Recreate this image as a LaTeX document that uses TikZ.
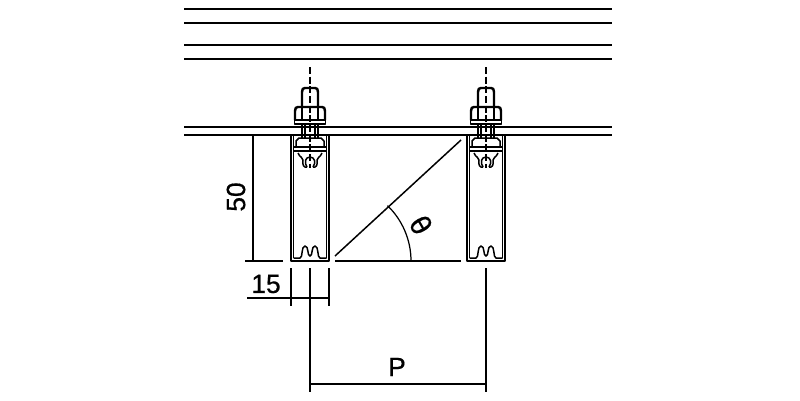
\documentclass[tikz,border=0pt]{standalone}
\usepackage{fontspec}
\setmainfont{Liberation Sans}
\newfontfamily\dimfont[FakeBold=0.6]{Liberation Sans}
\tikzset{
  part/.style={line width=0.85pt,line join=round},
  thick part/.style={line width=1.4pt,line join=round},
  dim/.style={line width=0.7pt},
  axis line/.style={line width=0.7pt,dash pattern=on 4pt off 1.5pt},
  dim text/.style={font=\dimfont\fontsize{15}{17}\selectfont,inner sep=0pt}
}
\begin{document}
\begin{tikzpicture}[x=0.02cm,y=-0.02cm]
    \useasboundingbox (0,0) rectangle (800,400);
    % deck boards
    \foreach \ly in {9,23,45,59,127,135}
      \draw[part] (184,\ly) -- (612,\ly);
    % channels and bolts
    \foreach \bx in {310,486} {
      \begin{scope}[shift={(\bx,0)}]
        \draw[axis line] (0,67) -- (0,168);
        % bolt and nut
        \draw[thick part] (-8,107) -- (-8,92) .. controls (-8,89) and (-7,88) .. (-5,88) -- (5,88) .. controls (7,88) and (8,89) .. (8,92) -- (8,107);
        \draw[thick part] (-15,120) -- (-15,111) .. controls (-15,108) and (-14,107) .. (-12,107) -- (12,107) .. controls (14,107) and (15,108) .. (15,111) -- (15,120);
        \draw[part] (-8,107) -- (-8,120) (8,107) -- (8,120);
        \draw[part] (-15.5,120) rectangle (15.5,124);
        \draw[thick part] (-8,124) -- (-8,139) (8,124) -- (8,139) (-5,124) -- (-5,139) (5,124) -- (5,139);
        % channel
        \draw[part] (-19,135) -- (-19,261) -- (19,261) -- (19,135);
        \draw[part] (-16.5,135) -- (-16.5,258) (16.5,135) -- (16.5,258);
        % clamp plate
        \draw[part] (-14,141) -- (-11,138) -- (11,138) -- (14,141) -- (14,147) -- (-14,147) -- cycle;
        \draw[part] (-16.5,147) -- (16.5,147) (-16.5,151) -- (16.5,151);
        % upper clip
        \draw[part] (-3,167) .. controls (-6,163) and (-5,157) .. (0,157) .. controls (5,157) and (6,163) .. (3,167);
        \draw[part] (-12,153) .. controls (-10,158) and (-7,157) .. (-7,160) .. controls (-8,165) and (-6,168) .. (-3,167);
        \draw[part] (12,153) .. controls (10,158) and (7,157) .. (7,160) .. controls (8,165) and (6,168) .. (3,167);
        % lower clip
        \draw[part] (-16.5,258) -- (-10,258) .. controls (-7,258) and (-9,246) .. (-5,246) .. controls (-1,246) and (-3,256) .. (0,256) .. controls (3,256) and (1,246) .. (5,246) .. controls (9,246) and (7,258) .. (10,258) -- (16.5,258);
      \end{scope}
    }
    % angle
    \draw[part] (335,256) -- (461,140);
    \draw[part] (335,261) -- (461,261);
    \draw[dim] (411,261) arc[start angle=0,end angle=-46,radius=77];
    \node[dim text,rotate=-60,scale=1.1] (theta) at (421,225) {θ};
    % height 50
    \draw[dim] (253,135) -- (253,261);
    \draw[dim] (245,261) -- (283,261);
    \node[dim text,rotate=90] (heightlabel) at (236,197) {50};
    % width 15
    \draw[dim] (291,268) -- (291,306);
    \draw[dim] (329,268) -- (329,306);
    \draw[dim] (247,298) -- (329,298);
    \node[dim text] (widthlabel) at (266,284) {15};
    % pitch P
    \draw[dim] (310,268) -- (310,392);
    \draw[dim] (486,268) -- (486,392);
    \draw[dim] (310,384) -- (486,384);
    \node[dim text] (pitchlabel) at (397,367) {P};
  \end{tikzpicture}
\end{document}
